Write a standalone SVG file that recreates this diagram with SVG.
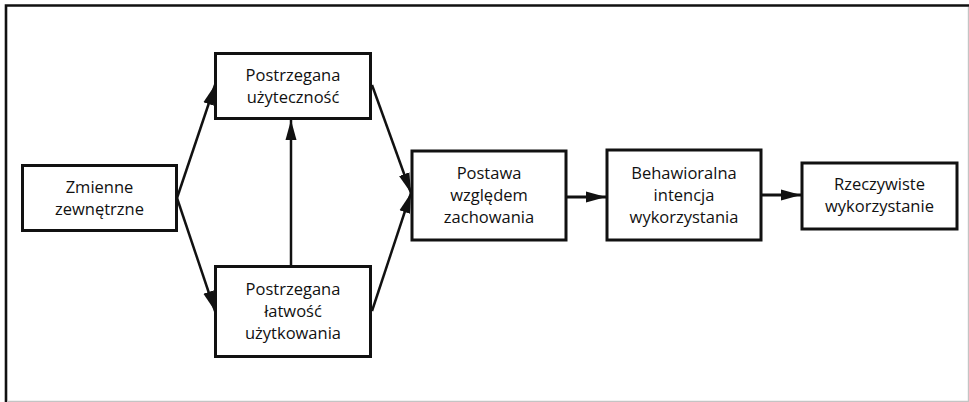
<svg xmlns="http://www.w3.org/2000/svg" width="969" height="402" viewBox="0 0 969 402">
  <style>
    .box { fill: #ffffff; stroke: #111111; stroke-width: 3; }
    .lbl { font-family: "Open Sans", "Noto Sans", "DejaVu Sans", sans-serif; font-size: 16.5px; fill: #111111; text-anchor: middle; }
    .conn { stroke: #111111; stroke-width: 2.5; fill: none; marker-end: url(#arrow); }
    .thick { stroke-width: 3.2; }
    .frame { stroke: #111111; stroke-width: 2.6; fill: none; }
    .edge { stroke: #c4c4c4; stroke-width: 1.2; fill: none; }
  </style>
  <defs>
    <marker id="arrow" markerUnits="userSpaceOnUse" markerWidth="20" markerHeight="12" refX="20" refY="5.5" orient="auto" viewBox="0 0 20 11">
      <path d="M0,0 L20,5.5 L0,11 z" fill="#111111"/>
    </marker>
  </defs>
  <rect width="969" height="402" fill="#ffffff"/>
  <g id="frame">
    <path class="frame" d="M6,402 L6,5.5 L969,5.5"/>
    <path class="edge" d="M968.4,7 L968.4,402"/>
    <path class="edge" d="M7,401.4 L969,401.4" stroke="#ececec"/>
  </g>
  <g id="connectors">
    <line class="conn" x1="177" y1="198" x2="215" y2="85"/>
    <line class="conn" x1="177" y1="198" x2="215" y2="311"/>
    <line class="conn" x1="291" y1="265" x2="291" y2="120"/>
    <line class="conn" x1="372" y1="85" x2="411" y2="193"/>
    <line class="conn" x1="372" y1="311" x2="411" y2="193"/>
    <line class="conn thick" x1="567" y1="197" x2="606" y2="197"/>
    <line class="conn thick" x1="762" y1="195" x2="801" y2="195"/>
  </g>
  <g id="zmienne">
    <rect class="box" x="22.5" y="165.5" width="154" height="65"/>
    <text class="lbl" x="99.5" y="193">Zmienne</text>
    <text class="lbl" x="99.5" y="215">zewnętrzne</text>
  </g>
  <g id="uzytecznosc">
    <rect class="box" x="215.5" y="53.5" width="155" height="65"/>
    <text class="lbl" x="293" y="80.5">Postrzegana</text>
    <text class="lbl" x="293" y="102.5">użyteczność</text>
  </g>
  <g id="latwosc">
    <rect class="box" x="215.5" y="266.5" width="155" height="90"/>
    <text class="lbl" x="293" y="294.5">Postrzegana</text>
    <text class="lbl" x="293" y="316.5">łatwość</text>
    <text class="lbl" x="293" y="338.5">użytkowania</text>
  </g>
  <g id="postawa">
    <rect class="box" x="412" y="151" width="154" height="89"/>
    <text class="lbl" x="489" y="179">Postawa</text>
    <text class="lbl" x="489" y="201">względem</text>
    <text class="lbl" x="489" y="223">zachowania</text>
  </g>
  <g id="intencja">
    <rect class="box" x="607" y="150" width="154" height="90"/>
    <text class="lbl" x="684" y="178.5">Behawioralna</text>
    <text class="lbl" x="684" y="200.5">intencja</text>
    <text class="lbl" x="684" y="222.5">wykorzystania</text>
  </g>
  <g id="rzeczywiste">
    <rect class="box" x="802" y="163" width="155" height="66"/>
    <text class="lbl" x="879.5" y="190">Rzeczywiste</text>
    <text class="lbl" x="879.5" y="212">wykorzystanie</text>
  </g>
</svg>
